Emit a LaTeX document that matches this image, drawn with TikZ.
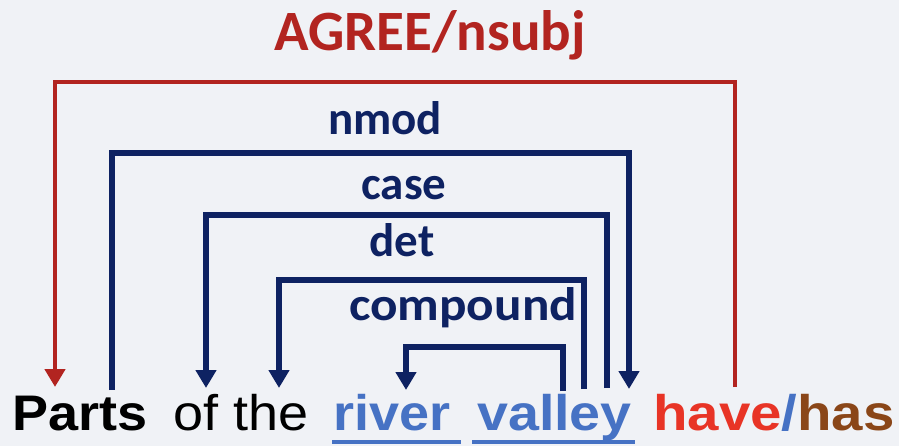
\documentclass[tikz,border=0pt]{standalone}
\usepackage{fontspec}
\usetikzlibrary{arrows.meta}
\newfontfamily\lblfont{Carlito}
\newfontfamily\wordfont[FakeStretch=1.08]{Liberation Sans}
\definecolor{bgcol}{RGB}{240,242,246}
\definecolor{arcred}{RGB}{178,36,32}
\definecolor{arcblue}{RGB}{14,34,98}
\definecolor{wordblue}{RGB}{70,114,196}
\definecolor{havered}{RGB}{232,52,38}
\definecolor{hasbrown}{RGB}{138,70,24}
\tikzset{
  lbl/.style={inner sep=0pt, anchor=base, text=arcblue, font=\lblfont\bfseries\fontsize{47}{56}\selectfont},
  word/.style={inner sep=0pt, anchor=base west, font=\wordfont\fontsize{50}{60}\selectfont},
  arcb/.style={draw=arcblue, line width=5.2pt},
  arcr/.style={draw=arcred, line width=4.8pt},
  tip/.style={-{Triangle[width=20pt,length=18pt]}},
  uline/.style={draw=wordblue, line width=4pt}
}
\begin{document}
\begin{tikzpicture}[x=1pt,y=-1pt]
\fill[bgcol] (0,0) rectangle (899,446);
\useasboundingbox (0,0) rectangle (899,446);

% words of the sentence
\node[word] (parts) at (12,430) {\bfseries Parts};
\node[word] (ofthe) at (173,430) {of the};
\node[word, text=wordblue] (river) at (333,430) {\bfseries river};
\node[word, text=wordblue] (valley) at (477,430) {\bfseries\scalebox{1.03}[1]{valley}};
\node[word] (have) at (653,430) {\bfseries\scalebox{1.045}[1]{\textcolor{havered}{have}\textcolor{wordblue}{/}\textcolor{hasbrown}{has}}};

\draw[uline] ([xshift=-1pt,yshift=-12pt]river.base west) -- ([xshift=10pt,yshift=-12pt]river.base east);
\draw[uline] ([xshift=-5pt,yshift=-12pt]valley.base west) -- ([xshift=3pt,yshift=-12pt]valley.base east);

% attachment points above the words
\coordinate (pA) at (55,387);
\coordinate (pB) at (112,390);
\coordinate (oA) at (206,388);
\coordinate (tA) at (279,388);
\coordinate (rA) at (406,390);
\coordinate (vA) at (563,391);
\coordinate (vB) at (584,389);
\coordinate (vC) at (607,388);
\coordinate (vD) at (629,389);
\coordinate (hA) at (735,387);

% dependency arcs
\draw[arcr, tip] (hA) -- (hA |- 0,82) -| (pA);
\draw[arcb, tip] (pB) -- (pB |- 0,153) -| (vD);
\draw[arcb, tip] (vC) -- (vC |- 0,215) -| (oA);
\draw[arcb, tip] (vB) -- (vB |- 0,280) -| (tA);
\draw[arcb, tip] (vA) -- (vA |- 0,347) -| (rA);

% arc labels
\node[lbl, text=arcred, font=\lblfont\bfseries\fontsize{57}{66}\selectfont] (lagree) at (430,51) {AGREE/nsubj};
\node[lbl] (lnmod) at (385,135) {nmod};
\node[lbl] (lcase) at (404,200) {case};
\node[lbl] (ldet) at (402,257) {det};
\node[lbl] (lcomp) at (463,320) {\scalebox{1.09}[1]{compound}};
\end{tikzpicture}
\end{document}
